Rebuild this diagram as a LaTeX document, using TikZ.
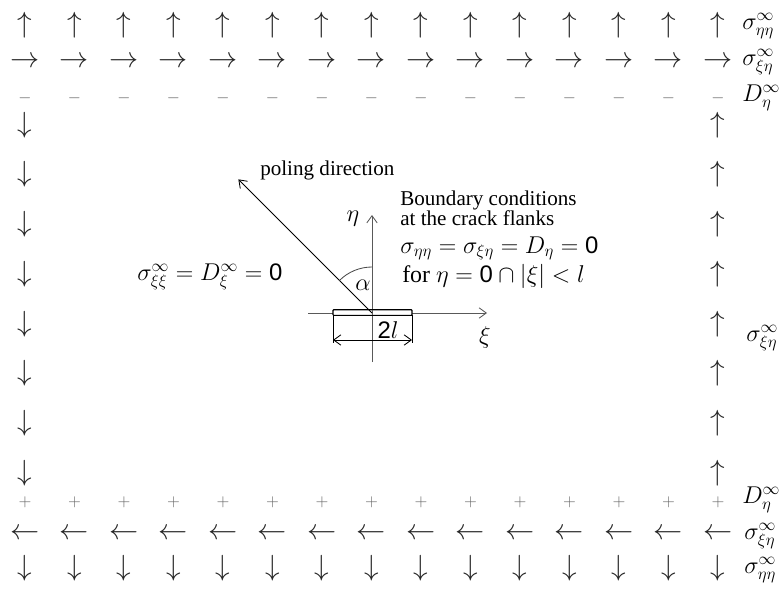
\documentclass[tikz,border=0pt]{standalone}
\usepackage{fontspec}
\setmainfont{Liberation Serif}
\setsansfont{Liberation Sans}
\usetikzlibrary{arrows.meta, calc}

\begin{document}
\begin{tikzpicture}[>={Straight Barb[length=1.8mm,width=2.6mm]}]
  \tikzstyle{load} = [inner sep=0pt, text=black!85, font=\fontsize{20}{20}\selectfont]
  \tikzstyle{sign} = [inner sep=0pt, text=black!60, font=\fontsize{13}{13}\selectfont]
  \tikzstyle{farlabel} = [anchor=west, inner sep=0pt, font=\fontsize{18}{18}\selectfont]
  \tikzstyle{eq} = [anchor=west, inner sep=0pt, font=\fontsize{17}{20}\selectfont]
  \tikzstyle{txt} = [anchor=west, inner sep=0pt, align=left, font=\fontsize{15}{13}\selectfont]
  \tikzstyle{axis} = [line width=0.6pt]

  \useasboundingbox (0,0) rectangle (19.575,15);

  % loads along the upper and lower edges
  \foreach \i in {0,...,14} {
    \node[load] (top\i)   at ({0.625+1.2375*\i}, 14.375) {$\uparrow$};
    \node[load] (shear\i) at ({0.625+1.2375*\i}, 13.45)  {$\rightarrow$};
    \node[sign] (minus\i) at ({0.625+1.2375*\i}, 12.55)  {$-$};
    \node[sign] (plus\i)  at ({0.625+1.2375*\i}, 2.45)   {$+$};
    \node[load] (back\i)  at ({0.625+1.2375*\i}, 1.65)   {$\leftarrow$};
    \node[load] (bot\i)   at ({0.625+1.2375*\i}, 0.8)    {$\downarrow$};
  }
  % shear along the side edges
  \foreach \k in {0,...,7} {
    \node[load] (left\k)  at (0.625, {11.875-1.2425*\k}) {$\downarrow$};
    \node[load] (right\k) at (17.95, {11.875-1.2425*\k}) {$\uparrow$};
  }

  \node[farlabel] (sigtop)  at (18.55, 14.35) {$\sigma^{\infty}_{\eta\eta}$};
  \node[farlabel] (tautop)  at (18.55, 13.45) {$\sigma^{\infty}_{\xi\eta}$};
  \node[farlabel] (dtop)    at (18.55, 12.55) {$D^{\infty}_{\eta}$};
  \node[farlabel] (tauside) at (18.65, 6.55)  {$\sigma^{\infty}_{\xi\eta}$};
  \node[farlabel] (dbot)    at (18.55, 2.5)   {$D^{\infty}_{\eta}$};
  \node[farlabel] (taubot)  at (18.6, 1.6)    {$\sigma^{\infty}_{\xi\eta}$};
  \node[farlabel] (sigbot)  at (18.6, 0.75)   {$\sigma^{\infty}_{\eta\eta}$};

  \node[eq] (sideeq) at (3.425, 8.075) {$\sigma^{\infty}_{\xi\xi}=D^{\infty}_{\xi}=\mathsf{0}$};

  % crack with coordinate axes
  \begin{scope}[shift={(9.3,7.175)}]
    \coordinate (O) at (0,0);
    \coordinate (xiL) at (-1.6,0);
    \coordinate (xiR) at (2.875,0);
    \coordinate (etaB) at (0,-1.225);
    \coordinate (etaT) at (0,2.45);
    \coordinate (pole) at (135:4.725);
    \coordinate (tipL) at (-0.975,-0.06);
    \coordinate (tipR) at (1.0,-0.06);
    \coordinate (extL) at (-0.975,-0.75);
    \coordinate (extR) at (1.0,-0.75);
    \coordinate (dimL) at (-0.975,-0.675);
    \coordinate (dimR) at (1.0,-0.675);

    \draw[axis, ->, black!65] (xiL) -- (xiR);
    \draw[axis, ->, black!65] (etaB) -- (etaT);
    \draw[line width=0.8pt, fill=white, rounded corners=0.5pt] (-0.975,-0.06) rectangle (1.0,0.08);
    \draw[axis, black!65] (0,-0.06) -- (0,0.08);
    \draw[axis, ->] (O) -- (pole);
    \draw[axis, black!70] (0,1.15) arc[start angle=90, end angle=135, radius=1.15];
    \draw[axis] (tipL) -- (extL);
    \draw[axis] (tipR) -- (extR);
    \draw[axis, <->] (dimL) -- (dimR);

    \node[eq, anchor=center] (eta) at (-0.475, 2.35) {$\eta$};
    \node[eq, anchor=center] (xi) at (2.825, -0.6) {$\xi$};
    \node[eq, anchor=center] (alpha) at (-0.225, 0.7) {$\alpha$};
    \node[eq, anchor=south] (len) at (0.4, -0.64) {$\mathsf{2}l$};
    \node[txt] (poling) at (-2.8, 3.575) {poling direction};
    \node[txt] (bc) at (0.7, 2.62) {Boundary conditions\\at the crack flanks};
    \node[eq] (crackeq) at (0.7, 1.62) {$\sigma_{\eta\eta}=\sigma_{\xi\eta}=D_{\eta}=\mathsf{0}$};
    \node[eq] (forline) at (0.75, 0.92) {for $\eta=\mathsf{0}\cap\left|\xi\right|<l$};
  \end{scope}
\end{tikzpicture}
\end{document}
